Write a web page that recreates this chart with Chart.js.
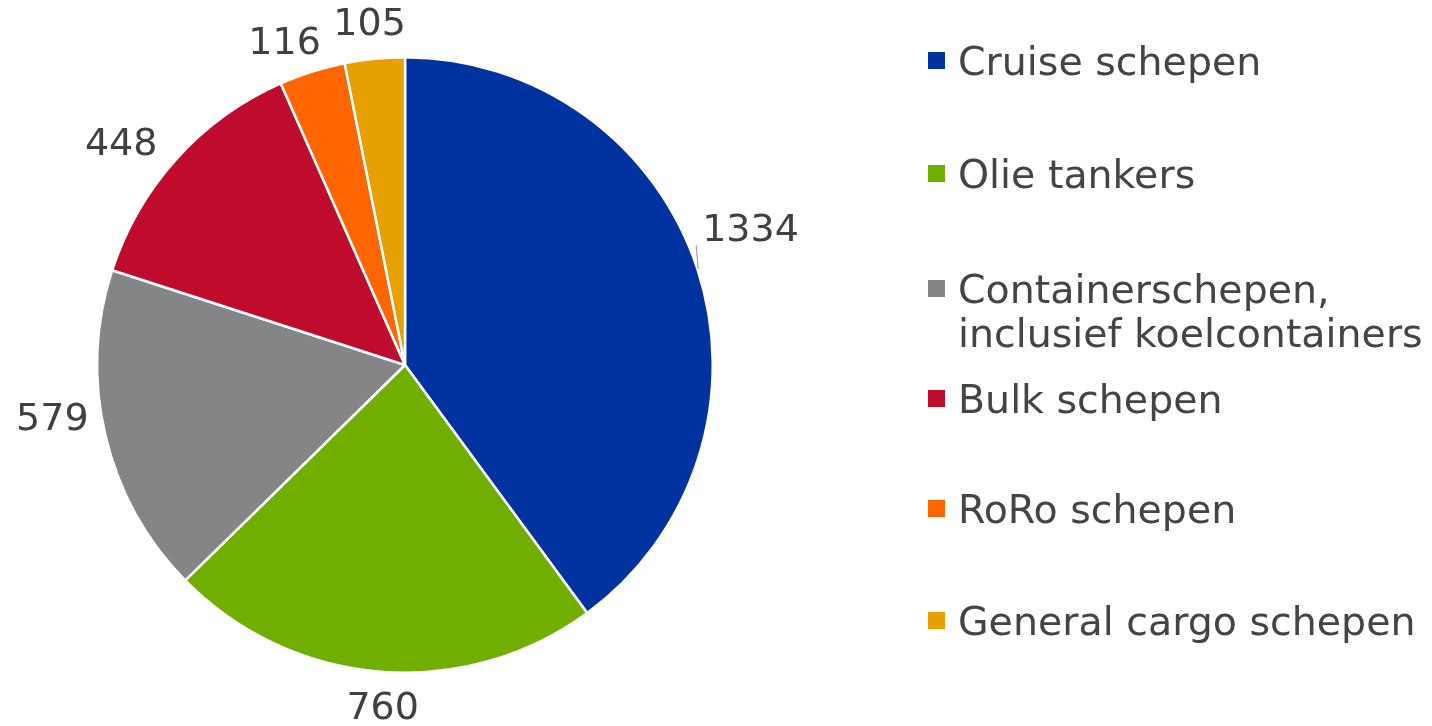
<!DOCTYPE html>
<html>
<head>
<meta charset="utf-8">
<script src="https://cdn.jsdelivr.net/npm/chart.js@4/dist/chart.umd.min.js"></script>
<style>
  html,body{margin:0;padding:0;background:#fff;}
  #wrap{position:relative;width:1432px;height:726px;}
  #c{position:absolute;left:0;top:0;}
  .lg{position:absolute;left:928px;font-family:"DejaVu Sans",Verdana,sans-serif;font-size:39.5px;color:#444;line-height:44px;}
  .lg .sw{position:absolute;left:0;top:13px;width:17px;height:17px;}
  .lg .tx{position:absolute;left:30px;top:0;white-space:nowrap;}
</style>
</head>
<body>
<div id="wrap"><canvas id="c" width="1432" height="726"></canvas></div>
<script>
const categories = ["Cruise schepen", "Olie tankers", "Containerschepen,\ninclusief koelcontainers", "Bulk schepen", "RoRo schepen", "General cargo schepen"];
const values = [1334, 760, 579, 448, 116, 105];
const colors = ["#0033A0", "#70AF00", "#848587", "#C00C2C", "#FF6600", "#E6A100"];

// layout: legend entry tops and small label nudges (pixels)
const legendTops = [39, 152, 267, 377, 487, 599];
const labelNudge = [[-8, -19], [5, 6], [-2, -28], [-18, 19], [-16, 8], [-2, -3]];

const wrap = document.getElementById('wrap');
categories.forEach((cat, i) => {
  const d = document.createElement('div');
  d.className = 'lg';
  d.style.top = legendTops[i] + 'px';
  const sw = document.createElement('div');
  sw.className = 'sw';
  sw.style.background = colors[i];
  const tx = document.createElement('div');
  tx.className = 'tx';
  tx.innerHTML = cat.split('\n').join('<br>');
  d.appendChild(sw); d.appendChild(tx);
  wrap.appendChild(d);
});

const FONT = '38px "DejaVu Sans", Verdana, sans-serif';
const labelPlugin = {
  id: 'outLabels',
  afterDatasetsDraw(chart) {
    const ctx = chart.ctx;
    const meta = chart.getDatasetMeta(0);
    ctx.save();
    ctx.font = FONT;
    ctx.fillStyle = '#404040';
    ctx.textAlign = 'center';
    ctx.textBaseline = 'middle';
    meta.data.forEach((arc, i) => {
      const p = arc.getProps(['x','y','startAngle','endAngle','outerRadius'], true);
      const mid = (p.startAngle + p.endAngle) / 2;
      const ux = Math.cos(mid), uy = Math.sin(mid);
      const txt = String(values[i]);
      const hw = ctx.measureText(txt).width / 2;
      const hh = 14;
      const r = p.outerRadius + 14 + Math.abs(ux) * hw + Math.abs(uy) * hh;
      const lx = p.x + ux * r + labelNudge[i][0];
      const ly = p.y + uy * r + 1 + labelNudge[i][1];
      ctx.fillText(txt, lx, ly);
      if (i === 0) {
        // short leader line below the label toward the slice edge
        ctx.strokeStyle = '#a6a6a6';
        ctx.lineWidth = 1.2;
        ctx.beginPath();
        ctx.moveTo(lx - hw - 6, ly + 14);
        ctx.lineTo(lx - hw - 4, ly + 38);
        ctx.stroke();
      }
    });
    ctx.restore();
  }
};

new Chart(document.getElementById('c'), {
  type: 'pie',
  data: {
    labels: categories,
    datasets: [{
      data: values,
      backgroundColor: colors,
      borderColor: '#ffffff',
      borderWidth: 2.5
    }]
  },
  options: {
    responsive: false,
    animation: false,
    layout: { padding: { top: 56, bottom: 52, left: 96, right: 718 } },
    plugins: {
      legend: { display: false },
      tooltip: { enabled: false }
    }
  },
  plugins: [labelPlugin]
});
</script>
</body>
</html>
